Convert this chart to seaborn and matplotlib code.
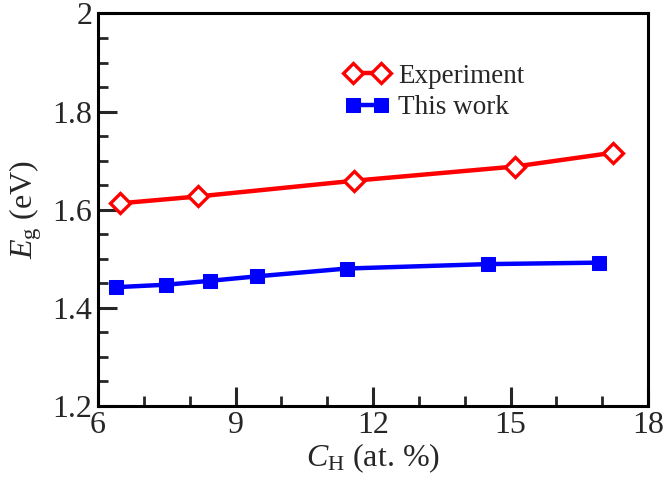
import matplotlib
matplotlib.use("Agg")
import matplotlib.pyplot as plt
import seaborn as sns
from matplotlib.ticker import MultipleLocator, FuncFormatter

sns.set_style("ticks")
plt.rcParams['font.family'] = ['Liberation Serif', 'DejaVu Serif']
plt.rcParams['mathtext.fontset'] = 'custom'
plt.rcParams['mathtext.rm'] = 'Liberation Serif'
plt.rcParams['mathtext.it'] = 'Liberation Serif:italic'

# data
exp_x = [6.49, 8.19, 11.59, 15.10, 17.23]
exp_y = [1.613, 1.627, 1.659, 1.688, 1.716]
work_x = [6.40, 7.49, 8.45, 9.46, 11.43, 14.50, 16.92]
work_y = [1.442, 1.447, 1.455, 1.464, 1.480, 1.489, 1.492]

fig = plt.figure(figsize=(6.64, 4.82), dpi=100)
ax = fig.add_axes([0.1476, 0.158, 0.8284, 0.814])

sns.lineplot(x=exp_x, y=exp_y, ax=ax, color="#ff0000", lw=3.2, marker="D",
             markersize=10, markerfacecolor="white", markeredgecolor="#ff0000",
             markeredgewidth=2.4, label="Experiment")
sns.lineplot(x=work_x, y=work_y, ax=ax, color="#0000ff", lw=3.2, marker="s",
             markersize=10.5, markeredgecolor="#0000ff", label="This work")

ax.set_xlim(6, 18)
ax.set_ylim(1.2, 2.0)
ax.xaxis.set_major_locator(MultipleLocator(3))
ax.xaxis.set_minor_locator(MultipleLocator(1))
ax.yaxis.set_major_locator(MultipleLocator(0.2))
ax.yaxis.set_minor_locator(MultipleLocator(0.05))
ax.yaxis.set_major_formatter(FuncFormatter(lambda v, p: "%g" % round(v, 2)))
ax.tick_params(which="major", direction="in", length=14, width=2.2,
               labelsize=23, pad=4)
ax.tick_params(which="minor", direction="in", length=7, width=2)
for s in ax.spines.values():
    s.set_linewidth(2.2)
    s.set_color("black")

ax.set_xlabel(r"$C_{\rm H}$ (at. %)", fontsize=23, labelpad=1)
ax.set_ylabel(r"$E_{\rm g}$ (eV)", fontsize=23, labelpad=6)

ax.legend(loc="upper left", bbox_to_anchor=(0.43, 0.9), frameon=False,
          fontsize=19.5, numpoints=2, handlelength=1.6, handletextpad=0.35,
          labelspacing=0.25, borderaxespad=0)

fig.savefig("out.png", dpi=100)
